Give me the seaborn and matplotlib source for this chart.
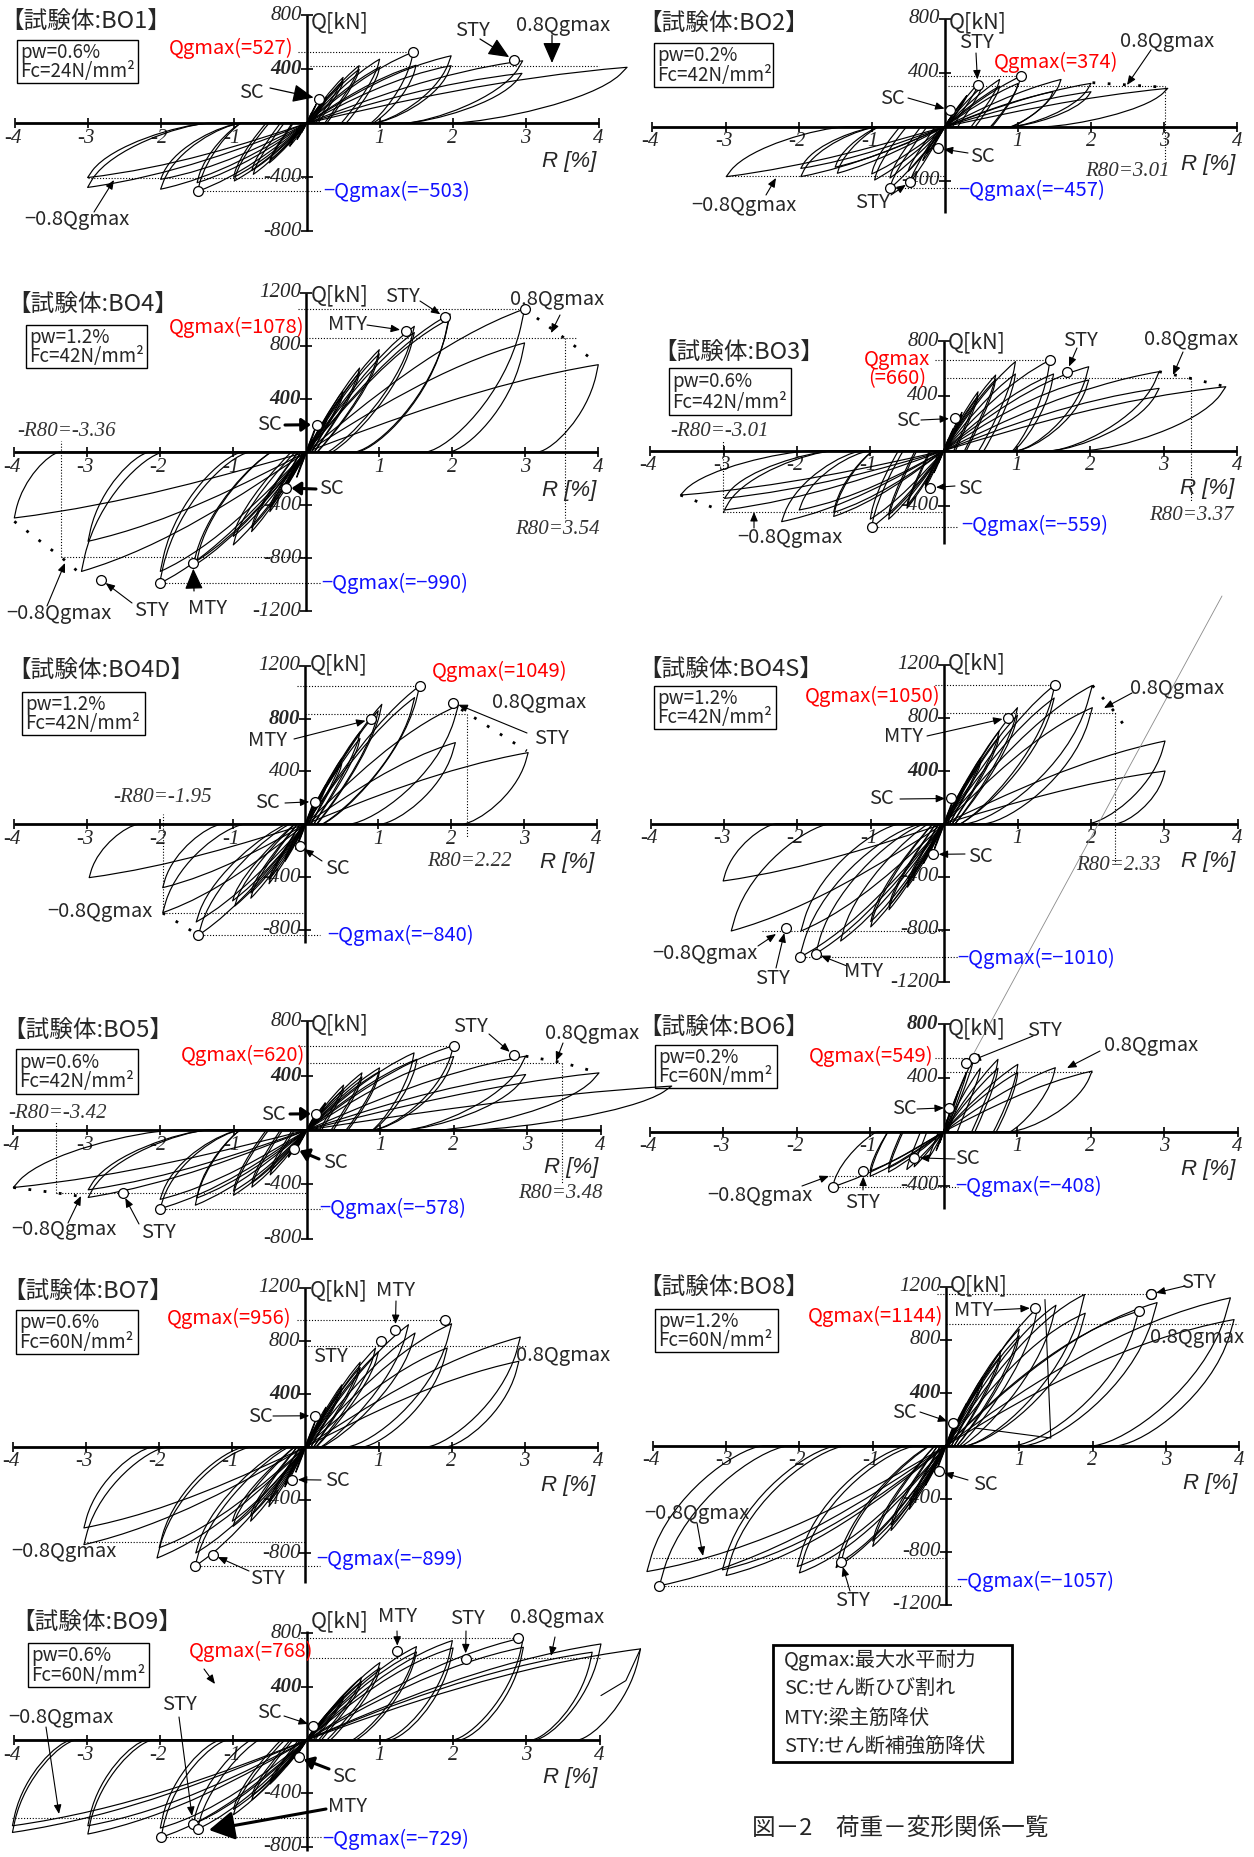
import matplotlib
matplotlib.use("Agg")
import matplotlib.pyplot as plt
import seaborn as sns
from matplotlib.path import Path
from matplotlib.patches import PathPatch, Rectangle
from matplotlib.lines import Line2D

# ---------------- loop peaks (R [%], Q [kN]) per specimen ----------------
BO1_POS_R = [0.07, 0.13, 0.27, 0.27, 0.50, 0.50, 0.72, 0.72, 1.00, 1.00, 1.46, 1.50, 1.98, 1.98, 2.96, 2.95, 4.39]
BO1_POS_Q = [80, 140, 195, 180, 340, 310, 427, 400, 475, 415, 527, 430, 500, 427, 463, 370, 415]
BO1_NEG_R = [-0.07, -0.13, -0.23, -0.25, -0.51, -0.50, -0.73, -0.75, -0.99, -1.00, -1.49, -1.50, -2.00, -2.00, -3.00, -3.00]
BO1_NEG_Q = [-70, -120, -170, -160, -293, -270, -378, -350, -427, -400, -503, -440, -488, -415, -475, -402]

BO2_POS_R = [0.07, 0.13, 0.25, 0.30, 0.46, 0.50, 0.75, 0.75, 1.04, 1.00, 1.59, 1.48, 2.00, 2.00, 3.05]
BO2_POS_Q = [60, 110, 190, 230, 320, 290, 350, 300, 374, 320, 350, 259, 321, 259, 284]
BO2_NEG_R = [-0.07, -0.13, -0.25, -0.30, -0.47, -0.50, -0.75, -0.75, -0.96, -1.00, -1.47, -1.50, -1.97, -1.97, -2.99]
BO2_NEG_Q = [-60, -110, -200, -250, -407, -330, -457, -380, -395, -350, -345, -300, -370, -309, -370]

BO4_POS_R = [0.07, 0.13, 0.28, 0.28, 0.50, 0.50, 0.73, 0.73, 1.00, 1.00, 1.48, 1.48, 1.97, 1.95, 2.99, 2.99, 4.00]
BO4_POS_Q = [100, 190, 256, 240, 457, 430, 633, 600, 771, 740, 947, 900, 1040, 1000, 1078, 822, 658]
BO4_NEG_R = [-0.07, -0.13, -0.28, -0.28, -0.50, -0.50, -0.75, -0.75, -1.00, -1.00, -1.55, -1.50, -2.01, -2.00, -3.08, -2.99, -4.00]
BO4_NEG_Q = [-100, -190, -260, -240, -450, -420, -600, -570, -700, -636, -860, -820, -990, -900, -900, -673, -497]

BO3_POS_R = [0.07, 0.13, 0.25, 0.25, 0.47, 0.47, 0.71, 0.71, 0.98, 0.98, 1.45, 1.50, 1.98, 1.98, 2.94, 2.94, 3.85]
BO3_POS_Q = [90, 160, 280, 260, 430, 400, 552, 520, 650, 560, 660, 560, 613, 516, 577, 455, 467]
BO3_NEG_R = [-0.07, -0.13, -0.25, -0.25, -0.50, -0.50, -0.75, -0.75, -0.98, -1.00, -1.50, -1.50, -1.97, -2.21, -2.99, -2.99, -3.59]
BO3_NEG_Q = [-90, -160, -270, -250, -420, -400, -500, -470, -559, -500, -480, -450, -433, -518, -433, -348, -324]

BO4D_POS_R = [0.07, 0.13, 0.28, 0.28, 0.50, 0.50, 0.75, 0.75, 1.05, 1.00, 1.57, 1.50, 2.10, 2.06, 3.06]
BO4D_POS_Q = [100, 190, 300, 280, 500, 460, 700, 650, 909, 860, 1049, 960, 900, 619, 543]
BO4D_NEG_R = [-0.07, -0.13, -0.28, -0.28, -0.50, -0.50, -0.75, -0.75, -0.97, -1.00, -1.47, -1.50, -1.96, -1.96, -2.97]
BO4D_NEG_Q = [-100, -190, -280, -260, -450, -420, -560, -520, -619, -580, -840, -740, -669, -480, -404]

BO4S_POS_R = [0.07, 0.13, 0.28, 0.28, 0.50, 0.50, 0.75, 0.75, 1.00, 1.00, 1.51, 1.50, 2.02, 2.02, 3.01, 3.01]
BO4S_POS_Q = [100, 190, 300, 280, 500, 470, 700, 660, 877, 820, 1050, 950, 1045, 877, 625, 398]
BO4S_NEG_R = [-0.07, -0.13, -0.28, -0.28, -0.50, -0.50, -0.75, -0.75, -1.00, -1.00, -1.41, -1.75, -1.97, -1.95, -2.90, -3.01]
BO4S_NEG_Q = [-100, -190, -300, -280, -480, -450, -650, -620, -780, -740, -887, -982, -1010, -811, -811, -433]

BO5_POS_R = [0.07, 0.13, 0.25, 0.25, 0.50, 0.50, 0.75, 0.75, 0.99, 0.99, 1.46, 1.50, 2.00, 2.00, 2.98, 2.98, 3.98, 4.97]
BO5_POS_Q = [70, 130, 200, 190, 330, 300, 420, 390, 457, 430, 567, 520, 620, 540, 543, 408, 420, 323]
BO5_NEG_R = [-0.07, -0.13, -0.25, -0.25, -0.50, -0.50, -0.75, -0.75, -1.00, -1.00, -1.52, -1.50, -2.00, -2.00, -2.98, -2.98, -4.00]
BO5_NEG_Q = [-70, -130, -200, -190, -330, -300, -420, -390, -480, -450, -553, -500, -578, -510, -496, -440, -423]

BO6_POS_R = [0.05, 0.10, 0.20, 0.31, 0.41, 0.50, 0.74, 0.74, 1.01, 1.01, 1.52, 2.02]
BO6_POS_Q = [90, 170, 300, 440, 549, 470, 536, 470, 499, 440, 474, 449]
BO6_NEG_R = [-0.05, -0.10, -0.20, -0.40, -0.50, -0.75, -0.75, -1.00, -1.00, -1.51]
BO6_NEG_Q = [-80, -140, -193, -260, -280, -300, -270, -330, -291, -408]

BO7_POS_R = [0.07, 0.13, 0.28, 0.28, 0.50, 0.50, 0.75, 0.75, 0.96, 1.00, 1.41, 1.50, 2.00, 1.94, 2.94, 2.92]
BO7_POS_Q = [100, 190, 300, 280, 470, 440, 640, 600, 747, 720, 923, 860, 930, 747, 830, 647]
BO7_NEG_R = [-0.07, -0.13, -0.28, -0.28, -0.50, -0.50, -0.75, -0.75, -0.99, -1.00, -1.51, -1.50, -2.03, -2.00, -3.03, -3.03]
BO7_NEG_Q = [-100, -190, -300, -280, -450, -420, -560, -520, -599, -560, -899, -800, -838, -760, -737, -611]

BO8_POS_R = [0.07, 0.13, 0.28, 0.28, 0.50, 0.50, 0.75, 0.75, 1.00, 1.00, 1.25, 1.50, 1.89, 1.90, 2.88, 2.63, 3.88, 3.93]
BO8_POS_Q = [100, 190, 320, 300, 520, 480, 720, 680, 880, 830, 1040, 1060, 1141, 1000, 1080, 1015, 1116, 952]
BO8_NEG_R = [-0.07, -0.13, -0.28, -0.28, -0.50, -0.50, -0.75, -0.75, -1.00, -1.00, -1.43, -1.50, -2.03, -2.00, -3.05, -3.00, -3.91, -4.08]
BO8_NEG_Q = [-100, -190, -300, -280, -480, -450, -640, -600, -760, -720, -874, -920, -912, -960, -937, -980, -1057, -950]
BO8_JUMP_R = [1.35, 1.43, 0.39]
BO8_JUMP_Q = [1103, 58, 134]

BO9_POS_R = [0.07, 0.13, 0.28, 0.28, 0.50, 0.50, 0.75, 0.75, 1.00, 1.00, 1.50, 1.50, 1.99, 2.00, 2.96, 2.96, 4.02, 3.90, 4.56]
BO9_POS_Q = [60, 110, 200, 190, 330, 310, 470, 440, 580, 540, 700, 660, 745, 690, 768, 695, 720, 658, 683]
BO9_NEG_R = [-0.07, -0.13, -0.28, -0.28, -0.50, -0.50, -0.75, -0.75, -1.00, -1.00, -1.49, -1.55, -1.99, -2.00, -2.99, -2.99, -4.02, -4.02]
BO9_NEG_Q = [-60, -110, -200, -190, -330, -310, -450, -420, -560, -520, -668, -630, -729, -660, -705, -643, -693, -643]
BO9_TAIL_R = [4.56, 4.36, 4.02]
BO9_TAIL_Q = [683, 445, 333]

# ---------------- maximum strength and events ----------------
BO1_QGMAX, BO1_QGMAX_NEG = (1.46, 527), (-1.49, -503)
BO2_QGMAX, BO2_QGMAX_NEG = (1.04, 374), (-0.75, -457)
BO4_QGMAX, BO4_QGMAX_NEG = (2.99, 1078), (-2.01, -990)
BO3_QGMAX, BO3_QGMAX_NEG = (1.45, 660), (-0.98, -559)
BO4D_QGMAX, BO4D_QGMAX_NEG = (1.57, 1049), (-1.47, -840)
BO4S_QGMAX, BO4S_QGMAX_NEG = (1.51, 1050), (-1.97, -1010)
BO5_QGMAX, BO5_QGMAX_NEG = (2.00, 620), (-2.00, -578)
BO6_QGMAX, BO6_QGMAX_NEG = (0.41, 549), (-1.51, -408)
BO7_QGMAX, BO7_QGMAX_NEG = (1.91, 956), (-1.51, -899)
BO8_QGMAX, BO8_QGMAX_NEG = (2.79, 1144), (-3.91, -1057)
BO9_QGMAX, BO9_QGMAX_NEG = (2.88, 768), (-1.99, -729)

BO1_EVENTS = {"SC": [(0.17, 182)], "STY": [(2.84, 468)]}
BO2_EVENTS = {"SC": [(0.07, 123), (-0.09, -160)], "STY": [(0.45, 309), (-0.47, -407)]}
BO4_EVENTS = {"SC": [(0.14, 206), (-0.28, -271)], "STY": [(1.90, 1015), (-2.81, -962)],
              "MTY": [(1.36, 915), (-1.55, -837)]}
BO3_EVENTS = {"SC": [(0.15, 236), (-0.18, -270)], "STY": [(1.68, 577)]}
BO4D_EVENTS = {"SC": [(0.13, 172), (-0.08, -164)], "STY": [(2.03, 922)], "MTY": [(0.90, 795)]}
BO4S_EVENTS = {"SC": [(0.09, 191), (-0.15, -232)], "STY": [(-2.16, -786)],
               "MTY": [(0.87, 801), (-1.75, -982)]}
BO5_EVENTS = {"SC": [(0.13, 120), (-0.17, -137)], "STY": [(2.82, 548), (-2.51, -464)]}
BO6_EVENTS = {"SC": [(0.08, 178), (-0.40, -193)], "STY": [(0.31, 511), (-1.09, -291)]}
BO7_EVENTS = {"SC": [(0.13, 236), (-0.18, -246)], "STY": [(1.04, 797), (-1.27, -813)], "MTY": [(1.23, 886)]}
BO8_EVENTS = {"SC": [(0.09, 171), (-0.10, -194)], "STY": [(2.79, 1144), (-1.43, -874)],
              "MTY": [(1.22, 1040)], "PT": [(2.63, 1015)]}
BO9_EVENTS = {"SC": [(0.09, 108), (-0.11, -130)], "STY": [(2.17, 608), (-1.55, -630)],
              "MTY": [(1.24, 665), (-1.49, -668)]}

# ultimate deformation R80 and the post-peak envelope toward 0.8Qgmax
BO2_R80 = [3.01]
BO4_R80 = [3.54, -3.36]
BO3_R80 = [3.37, -3.01]
BO4D_R80 = [2.22, -1.95]
BO4S_R80 = [2.33]
BO5_R80 = [3.48, -3.42]

BO2_DROP = [[(2.02, 326), (3.04, 291)]]
BO4_DROP = [[(2.99, 1078), (3.52, 864), (3.92, 696)], [(-4.00, -523), (-3.36, -792), (-3.13, -900)]]
BO3_DROP = [[(2.94, 577), (3.37, 528), (3.85, 467)], [(-3.59, -324), (-2.99, -447)]]
BO4D_DROP = [[(2.14, 871), (3.04, 556)], [(-1.96, -672), (-1.47, -840)]]
BO4S_DROP = [[(2.02, 1045), (2.33, 840), (2.50, 705)]]
BO5_DROP = [[(2.98, 543), (3.48, 496), (3.98, 420)], [(-4.00, -423), (-3.42, -462), (-2.98, -496)]]

# ---------------- fonts ----------------
sns.set_theme(style="white")
JP = "Noto Sans CJK JP"
SERIF = "Liberation Serif"
plt.rcParams["font.family"] = [JP, "DejaVu Sans"]
LABF = [JP, "DejaVu Sans"]
MINUS = "\u2212"
LFS = 14.5

W, H = 1254, 1857
fig = plt.figure(figsize=(W / 100, H / 100), dpi=100)
fig.patch.set_facecolor("white")


def fxy(x, y):
    return (x / W, 1 - y / H)


def ftext(x, y, s, ha="center", va="center", **kw):
    fig.text(x / W, 1 - y / H, s, ha=ha, va=va, **kw)


M, C, L = Path.MOVETO, Path.CURVE4, Path.LINETO


def loop_patch(rp, qp, res, bulge, ku):
    """Half cycle from the origin out to a peak and back to the axis.

    res   -- pinching: where large loops meet the axis on unloading (fraction of the peak drift)
    bulge -- fullness of the loading branch of large loops
    ku    -- unloading stiffness [kN/%]
    """
    sg = 1.0 if rp > 0 else -1.0
    a, b = abs(rp), abs(qp)
    w = min(1.0, max(0.0, (a - 0.2) / 1.8))
    ru = max(min(b / ku, 0.85 * a), (1.0 - res) * a * w)

    def mix(p, q):
        return (p[0] * (1 - w) + q[0] * w, p[1] * (1 - w) + q[1] * w)

    l1 = mix((0.33 * a, 0.37 * b), (0.28 * a, (0.30 + bulge) * b))
    l2 = mix((0.66 * a, 0.71 * b), (0.62 * a, (0.74 + bulge) * b))
    pts = [(0, 0), l1, l2, (a, b),
           (a - 0.04 * ru, (0.93 - 0.06 * w) * b),
           (a - 0.2 * ru, (0.75 - 0.35 * w) * b),
           (a - 0.75 * ru, (0.28 - 0.25 * w) * b),
           (a - ru, 0.0), (0, 0)]
    codes = [M, C, C, C, L, C, C, C, L]
    verts = [(sg * u, sg * v) for u, v in pts]
    return PathPatch(Path(verts, codes), fill=False, lw=0.85, ec="black", clip_on=False, zorder=3,
                     capstyle="round", joinstyle="round")


ARROWS = {"small": dict(arrowstyle="-|>,head_length=0.6,head_width=0.25", lw=0.8, mutation_scale=9),
          "big": dict(arrowstyle="-|>,head_length=0.8,head_width=0.35", lw=0.9, mutation_scale=16),
          "thick": dict(arrowstyle="-|>,head_length=0.5,head_width=0.35", lw=2.2, mutation_scale=11),
          "huge": dict(arrowstyle="-|>,head_length=0.7,head_width=0.4", lw=2.2, mutation_scale=22)}


def draw_arrow(ax, ev, start, target, kind):
    if target[0] == "e":
        xy, xyc, shr = ev[target[1]][target[2]], "data", 4
    else:
        xy, xyc, shr = fxy(target[1], target[2]), "figure fraction", 0
    props = dict(color="black", shrinkA=0, shrinkB=shr, **ARROWS[kind])
    ax.annotate("", xy=xy, xycoords=xyc, xytext=fxy(*start), textcoords="figure fraction",
                arrowprops=props, annotation_clip=False, zorder=6)


def A(t, x, y, start=None, target=None, kind="small", ha="center"):
    return dict(t=t, x=x, y=y, start=start, target=target, kind=kind, ha=ha)


SPECS = [
    dict(key="BO1", pw="0.6", fc="24", x0=306.6, y0=123.3, ux=73.0, uy=0.135, yax=(-800, 800),
         yt=[800, 400, -400, -800], bold=400, pos=(BO1_POS_R, BO1_POS_Q), neg=(BO1_NEG_R, BO1_NEG_Q),
         qg=BO1_QGMAX, qgn=BO1_QGMAX_NEG, ev=BO1_EVENTS, shape=(0.45, 0.08, 900), r80=[], r80v=[], drop=[],
         title=(0, 21), box=(17, 40, 138, 83), qkn=22, q80p=(0.05, 4.0), q80n=(-3.0, 0.0),
         qglab=(293, 48, "right"), qgnlab=(323, 191, "left"),
         labels=[A("STY", 472, 31, (480, 39), ("e", "STY", 0), "big"),
                 A("0.8Qgmax", 563, 25, (552, 35), ("p", 552, 63), "big"),
                 A(MINUS + "0.8Qgmax", 77, 220, (94, 212), ("p", 114, 180)),
                 A("SC", 251, 92, (270, 88), ("e", "SC", 0), "big")]),
    dict(key="BO2", pw="0.2", fc="42", x0=944.8, y0=126.7, ux=73.1, uy=0.135, yax=(-640, 800),
         yt=[800, 400, -400], bold=None, pos=(BO2_POS_R, BO2_POS_Q), neg=(BO2_NEG_R, BO2_NEG_Q),
         qg=BO2_QGMAX, qgn=BO2_QGMAX_NEG, ev=BO2_EVENTS, shape=(0.45, 0.05, 900), r80=BO2_R80,
         r80v=[(BO2_R80[0], -250)], r80lab=[(1127, 172)], drop=BO2_DROP,
         title=(638, 23), box=(654, 43, 773, 87), qkn=22, q80p=(0.05, 3.01), q80n=(-3.0, 0.0),
         qglab=(994, 62, "left"), qgnlab=(958, 190, "left"),
         labels=[A("STY", 976, 43, (976, 53), ("e", "STY", 0)),
                 A("0.8Qgmax", 1167, 42, (1151, 50), ("p", 1127, 85)),
                 A(MINUS + "0.8Qgmax", 744, 205, (766, 195), ("p", 776, 178)),
                 A("SC", 892, 98, (908, 98), ("e", "SC", 0)),
                 A("SC", 982, 157, (968, 153), ("e", "SC", 1)),
                 A("STY", 872, 203, (891, 195), ("e", "STY", 1))]),
    dict(key="BO4", pw="1.2", fc="42", x0=306.3, y0=452.0, ux=73.0, uy=0.1327, yax=(-1200, 1200),
         yt=[1200, 800, 400, -400, -800, -1200], bold=400, pos=(BO4_POS_R, BO4_POS_Q),
         neg=(BO4_NEG_R, BO4_NEG_Q), qg=BO4_QGMAX, qgn=BO4_QGMAX_NEG, ev=BO4_EVENTS, shape=(1.0, 0.05, 800),
         r80=BO4_R80, r80v=[(BO4_R80[0], -497), (BO4_R80[1], 80)], r80lab=[(557, 530), (67, 432)],
         drop=BO4_DROP, title=(7, 304), box=(26, 325, 147, 368), qkn=295, q80p=(0.0, 3.69),
         q80n=(-3.36, 0.0), qglab=(304, 327, "right"), qgnlab=(321, 583, "left"),
         labels=[A("STY", 402, 296, (420, 301), ("e", "STY", 0)),
                 A("MTY", 347, 324, (367, 325), ("e", "MTY", 0)),
                 A("0.8Qgmax", 557, 299, (560, 315), ("p", 551, 333)),
                 A(MINUS + "0.8Qgmax", 59, 613, (47, 606), ("p", 65, 563)),
                 A("STY", 151, 610, (132, 603), ("e", "STY", 1)),
                 A("MTY", 208, 608, (194, 591), ("e", "MTY", 1), "big"),
                 A("SC", 269, 425, (285, 425), ("e", "SC", 0), "thick"),
                 A("SC", 331, 489, (316, 489), ("e", "SC", 1), "thick")]),
    dict(key="BO3", pw="0.6", fc="42", x0=943.6, y0=450.7, ux=73.3, uy=0.137, yax=(-680, 800),
         yt=[800, 400, -400], bold=None, pos=(BO3_POS_R, BO3_POS_Q), neg=(BO3_NEG_R, BO3_NEG_Q),
         qg=BO3_QGMAX, qgn=BO3_QGMAX_NEG, ev=BO3_EVENTS, shape=(0.5, 0.08, 1300), r80=BO3_R80,
         r80v=[(BO3_R80[0], -372), (BO3_R80[1], 78)], r80lab=[(1191, 515), (720, 432)], drop=BO3_DROP,
         title=(653, 352), box=(669, 368, 791, 415), qkn=342, q80p=(0.0, 3.37), q80n=(-2.99, 0.0),
         qglab=None, qgnlab=(961, 525, "left"),
         labels=[A("STY", 1080, 340, (1077, 348), ("e", "STY", 0)),
                 A("0.8Qgmax", 1191, 340, (1183, 352), ("p", 1173, 375)),
                 A(MINUS + "0.8Qgmax", 790, 538, (754, 528), ("p", 754, 512)),
                 A("SC", 908, 420, (921, 420), ("e", "SC", 0)),
                 A("SC", 970, 488, (955, 486), ("e", "SC", 1))]),
    dict(key="BO4D", pw="1.2", fc="42", x0=305.4, y0=824.3, ux=72.8, uy=0.132, yax=(-900, 1200),
         yt=[1200, 800, 400, -400, -800], bold=800, pos=(BO4D_POS_R, BO4D_POS_Q),
         neg=(BO4D_NEG_R, BO4D_NEG_Q), qg=BO4D_QGMAX, qgn=BO4D_QGMAX_NEG, ev=BO4D_EVENTS,
         shape=(1.0, 0.05, 600), r80=BO4D_R80, r80v=[(BO4D_R80[0], -101), (BO4D_R80[1], 76)],
         r80lab=[(469, 861), (163, 798)], drop=BO4D_DROP, title=(7, 670), box=(22, 692, 145, 735),
         qkn=664, q80p=(0.0, 2.22), q80n=(-1.95, 0.0), qglab=(432, 671, "left"), qgnlab=(327, 935, "left"),
         labels=[A("0.8Qgmax", 539, 702),
                 A("STY", 551, 739, (527, 733), ("e", "STY", 0)),
                 A(MINUS + "0.8Qgmax", 100, 911),
                 A("MTY", 267, 741, (294, 739), ("e", "MTY", 0)),
                 A("SC", 267, 803, (285, 803), ("e", "SC", 0)),
                 A("SC", 337, 868, (322, 861), ("e", "SC", 1))]),
    dict(key="BO4S", pw="1.2", fc="42", x0=944.1, y0=823.7, ux=73.4, uy=0.1323, yax=(-1200, 1200),
         yt=[1200, 800, 400, -400, -800, -1200], bold=400, pos=(BO4S_POS_R, BO4S_POS_Q),
         neg=(BO4S_NEG_R, BO4S_NEG_Q), qg=BO4S_QGMAX, qgn=BO4S_QGMAX_NEG, ev=BO4S_EVENTS,
         shape=(1.0, 0.05, 600), r80=BO4S_R80, r80v=[(BO4S_R80[0], -307)], r80lab=[(1118, 866)],
         drop=BO4S_DROP, title=(638, 669), box=(654, 686, 776, 729), qkn=663, q80p=(0.0, 2.34),
         q80n=(-2.48, 0.0), qglab=(941, 696, "right"), qgnlab=(957, 958, "left"),
         labels=[A("0.8Qgmax", 1177, 688, (1132, 693), ("p", 1104, 708)),
                 A("MTY", 903, 736, (927, 736), ("e", "MTY", 0)),
                 A("SC", 881, 799, (900, 799), ("e", "SC", 0)),
                 A("SC", 980, 856, (965, 854), ("e", "SC", 1)),
                 A(MINUS + "0.8Qgmax", 705, 953, (758, 946), ("p", 776, 934)),
                 A("STY", 772, 978, (776, 968), ("e", "STY", 0)),
                 A("MTY", 864, 971, (847, 966), ("e", "MTY", 1))]),
    dict(key="BO5", pw="0.6", fc="42", x0=306.9, y0=1130.0, ux=73.4, uy=0.136, yax=(-800, 800),
         yt=[800, 400, -400, -800], bold=400, pos=(BO5_POS_R, BO5_POS_Q), neg=(BO5_NEG_R, BO5_NEG_Q),
         qg=BO5_QGMAX, qgn=BO5_QGMAX_NEG, ev=BO5_EVENTS, shape=(0.45, 0.06, 1000), r80=BO5_R80,
         r80v=[(BO5_R80[0], -399), (BO5_R80[1], 66)], r80lab=[(560, 1194), (58, 1114)], drop=BO5_DROP,
         title=(2, 1030), box=(16, 1049, 138, 1094), qkn=1024, q80p=(0.0, 3.48), q80n=(-3.42, 0.0),
         qglab=(305, 1055, "right"), qgnlab=(319, 1208, "left"),
         labels=[A("STY", 470, 1027, (489, 1034), ("e", "STY", 0)),
                 A("0.8Qgmax", 592, 1034, (563, 1043), ("p", 556, 1061)),
                 A(MINUS + "0.8Qgmax", 64, 1230, (68, 1223), ("p", 81, 1196)),
                 A("STY", 158, 1233, (139, 1224), ("e", "STY", 1)),
                 A("SC", 273, 1114, (290, 1114), ("e", "SC", 0), "thick"),
                 A("SC", 335, 1163, (319, 1159), ("e", "SC", 1), "thick")]),
    dict(key="BO6", pw="0.2", fc="60", x0=943.6, y0=1131.7, ux=73.5, uy=0.135, yax=(-570, 800),
         yt=[800, 400, -400], bold=800, pos=(BO6_POS_R, BO6_POS_Q), neg=(BO6_NEG_R, BO6_NEG_Q),
         qg=BO6_QGMAX, qgn=BO6_QGMAX_NEG, ev=BO6_EVENTS, shape=(0.45, 0.05, 1500), r80=[], r80v=[], drop=[],
         title=(638, 1027), box=(655, 1045, 777, 1088), qkn=1028, q80p=(0.0, 2.02), q80n=(-1.56, 0.0),
         qglab=(933, 1056, "right"), qgnlab=(955, 1186, "left"),
         labels=[A("STY", 1044, 1031, (1033, 1036), ("e", "STY", 0)),
                 A("0.8Qgmax", 1151, 1046, (1100, 1051), ("p", 1067, 1068)),
                 A("SC", 904, 1109, (917, 1109), ("e", "SC", 0)),
                 A("SC", 967, 1159, (955, 1159), ("e", "SC", 1)),
                 A(MINUS + "0.8Qgmax", 760, 1195, (802, 1186), ("p", 829, 1176)),
                 A("STY", 862, 1203, (863, 1190), ("e", "STY", 1))]),
    dict(key="BO7", pw="0.6", fc="60", x0=305.4, y0=1447.0, ux=73.1, uy=0.1325, yax=(-1030, 1200),
         yt=[1200, 800, 400, -400, -800], bold=400, pos=(BO7_POS_R, BO7_POS_Q), neg=(BO7_NEG_R, BO7_NEG_Q),
         qg=BO7_QGMAX, qgn=BO7_QGMAX_NEG, ev=BO7_EVENTS, shape=(1.0, 0.06, 650), r80=[], r80v=[], drop=[],
         title=(2, 1291), box=(16, 1310, 138, 1354), qkn=1290, q80p=(0.0, 3.03), q80n=(-3.03, 0.0),
         qglab=(292, 1318, "right"), qgnlab=(316, 1559, "left"),
         labels=[A("MTY", 395, 1291, (396, 1301), ("e", "MTY", 0)),
                 A("STY", 330, 1356),
                 A("0.8Qgmax", 563, 1355),
                 A("SC", 260, 1416, (273, 1416), ("e", "SC", 0)),
                 A("SC", 337, 1480, (321, 1480), ("e", "SC", 1)),
                 A(MINUS + "0.8Qgmax", 64, 1552),
                 A("STY", 267, 1578, (249, 1571), ("e", "STY", 1))]),
    dict(key="BO8", pw="1.2", fc="60", x0=946.0, y0=1445.7, ux=73.3, uy=0.1325, yax=(-1200, 1200),
         yt=[1200, 800, 400, -400, -800, -1200], bold=400, pos=(BO8_POS_R, BO8_POS_Q),
         neg=(BO8_NEG_R, BO8_NEG_Q), qg=BO8_QGMAX, qgn=BO8_QGMAX_NEG, ev=BO8_EVENTS, shape=(1.0, 0.1, 600),
         r80=[], r80v=[], drop=[], title=(638, 1287), box=(655, 1309, 778, 1352), qkn=1285,
         q80p=(0.0, 3.98), q80n=(-4.0, 0.0), qglab=(943, 1316, "right"), qgnlab=(956, 1581, "left"),
         labels=[A("STY", 1198, 1283, (1185, 1286), ("e", "STY", 0)),
                 A("MTY", 974, 1310, (994, 1310), ("e", "MTY", 0)),
                 A("0.8Qgmax", 1197, 1338),
                 A("SC", 904, 1412, (920, 1412), ("e", "SC", 0)),
                 A("SC", 985, 1485, (968, 1480), ("e", "SC", 1)),
                 A(MINUS + "0.8Qgmax", 697, 1513, (697, 1523), ("p", 703, 1556)),
                 A("STY", 852, 1601, (850, 1591), ("e", "STY", 1))]),
    dict(key="BO9", pw="0.6", fc="60", x0=306.7, y0=1740.0, ux=73.2, uy=0.1334, yax=(-830, 820),
         yt=[800, 400, -400, -800], bold=400, pos=(BO9_POS_R, BO9_POS_Q), neg=(BO9_NEG_R, BO9_NEG_Q),
         qg=BO9_QGMAX, qgn=BO9_QGMAX_NEG, ev=BO9_EVENTS, shape=(1.0, 0.08, 800), r80=[], r80v=[], drop=[],
         title=(11, 1622), box=(28, 1643, 149, 1687), qkn=1621, q80p=(0.0, 4.0), q80n=(-4.02, 0.0),
         qglab=(313, 1651, "right"), qgnlab=(322, 1839, "left"),
         labels=[A("", 0, 0, (204, 1669), ("p", 215, 1684)),
                 A("MTY", 397, 1616, (397, 1631), ("e", "MTY", 0)),
                 A("STY", 467, 1618, (466, 1631), ("e", "STY", 0)),
                 A("0.8Qgmax", 557, 1617, (555, 1637), ("p", 551, 1656)),
                 A(MINUS + "0.8Qgmax", 61, 1717, (46, 1727), ("p", 59, 1814)),
                 A("STY", 179, 1704, (179, 1717), ("p", 192, 1816)),
                 A("MTY", 347, 1806, (326, 1809), ("p", 209, 1830), "huge"),
                 A("SC", 269, 1712, (284, 1716), ("e", "SC", 0)),
                 A("SC", 344, 1776, (329, 1769), ("e", "SC", 1), "thick")]),
]

DOT = (0, (1, 1.6))
COARSE = (0, (1, 4.5))

for sp in SPECS:
    x0, y0, ux, uy = sp["x0"], sp["y0"], sp["ux"], sp["uy"]
    ymin, ymax = sp["yax"]
    xlim = (-4.5, 5.2)
    ylim = (ymin - 40, ymax + 40)
    left, right = x0 + xlim[0] * ux, x0 + xlim[1] * ux
    top, bottom = y0 - ylim[1] * uy, y0 - ylim[0] * uy
    ax = fig.add_axes([left / W, 1 - bottom / H, (right - left) / W, (bottom - top) / H])
    ax.set_xlim(xlim)
    ax.set_ylim(ylim)
    ax.set_axis_off()
    ax.patch.set_alpha(0)

    # axes drawn through the origin
    ax.plot([-4, 4], [0, 0], color="black", lw=2.0, clip_on=False, zorder=4, solid_capstyle="butt")
    ax.plot([0, 0], [ymin, ymax], color="black", lw=1.8, clip_on=False, zorder=4, solid_capstyle="butt")
    xt = [-4, -3, -2, -1, 1, 2, 3, 4]
    ax.plot(xt, [0] * len(xt), ls="none", marker="|", ms=7, mew=1.2, color="black", clip_on=False, zorder=4)
    ax.plot([0] * len(sp["yt"]), sp["yt"], ls="none", marker="_", ms=8, mew=1.2, color="black",
            clip_on=False, zorder=4)
    for k in xt:
        ax.annotate(f"{k}", (k, 0), xytext=(-2 if k < 0 else 0, -15), textcoords="offset pixels",
                    ha="center", va="center", family=SERIF, style="italic", fontsize=15,
                    annotation_clip=False, zorder=2)
    for q in sp["yt"]:
        bold = (q == sp["bold"])
        ax.annotate(f"{q}", (0, q), xytext=(-5, 0), textcoords="offset pixels", ha="right", va="center",
                    family=SERIF, style="italic", fontsize=15, weight="bold" if bold else "normal",
                    annotation_clip=False, zorder=2)

    # hysteresis loops
    res, bulge, ku = sp["shape"]
    for rs, qs in (sp["pos"], sp["neg"]):
        for r, q in zip(rs, qs):
            ax.add_patch(loop_patch(r, q, res, bulge, ku))
    if sp["key"] == "BO8":
        ax.plot(BO8_JUMP_R, BO8_JUMP_Q, color="black", lw=0.8, clip_on=False, zorder=3)
    if sp["key"] == "BO9":
        ax.plot(BO9_TAIL_R, BO9_TAIL_Q, color="black", lw=0.8, clip_on=False, zorder=3)

    # reference lines for Qgmax and 0.8Qgmax
    qg, qgn = sp["qg"], sp["qgn"]
    ax.plot([-0.12, qg[0]], [qg[1], qg[1]], color="black", lw=0.8, ls=DOT, clip_on=False, zorder=2)
    ax.plot([qgn[0], 0.2], [qgn[1], qgn[1]], color="black", lw=0.8, ls=DOT, clip_on=False, zorder=2)
    ax.plot(list(sp["q80p"]), [0.8 * qg[1]] * 2, color="black", lw=0.8, ls=DOT, clip_on=False, zorder=2)
    ax.plot(list(sp["q80n"]), [0.8 * qgn[1]] * 2, color="black", lw=0.8, ls=DOT, clip_on=False, zorder=2)
    for (rv, qend), rv80 in zip(sp["r80v"], sp["r80"]):
        qstart = 0.8 * (qg[1] if rv80 > 0 else qgn[1])
        ax.plot([rv80, rv80], [qstart, qend], color="black", lw=0.8, ls=DOT, clip_on=False, zorder=2)
    for seg in sp["drop"]:
        ax.plot([p[0] for p in seg], [p[1] for p in seg], color="black", lw=2.0, ls=COARSE,
                clip_on=False, zorder=3)

    # event markers
    pts = [qg, qgn] + [p for v in sp["ev"].values() for p in v]
    sns.scatterplot(x=[p[0] for p in pts], y=[p[1] for p in pts], ax=ax, s=50, color="white",
                    edgecolor="black", linewidth=0.9, zorder=7, clip_on=False, legend=False)

    # texts
    ftext(sp["title"][0], sp["title"][1], f"【試験体:{sp['key']}】", ha="left", family=[JP], fontsize=17)
    bx = sp["box"]
    fig.add_artist(Rectangle(fxy(bx[0], bx[3]), (bx[2] - bx[0]) / W, (bx[3] - bx[1]) / H,
                             transform=fig.transFigure, fill=False, lw=1.0, ec="black"))
    hh = (bx[3] - bx[1])
    ftext(bx[0] + 3, bx[1] + hh * 0.29, f"pw={sp['pw']}%", ha="left", family=LABF, fontsize=13.5)
    ftext(bx[0] + 3, bx[1] + hh * 0.73, f"Fc={sp['fc']}N/mm²", ha="left", family=LABF, fontsize=13.5)
    ftext(x0 + 4, sp["qkn"], "Q[kN]", ha="left", family=LABF, fontsize=15.5)
    ftext(x0 + 3.6 * ux, y0 + 38, "R [%]", family=["Liberation Sans"], style="italic", fontsize=16)
    if sp["qglab"] is not None:
        gx, gy, gha = sp["qglab"]
        ftext(gx, gy, f"Qgmax(={qg[1]})", ha=gha, family=LABF, fontsize=LFS, color="#ff0000")
    else:
        ftext(897, 360, "Qgmax", family=LABF, fontsize=LFS, color="#ff0000")
        ftext(897, 379, f"(={qg[1]})", family=LABF, fontsize=LFS, color="#ff0000")
    nx, ny, nha = sp["qgnlab"]
    ftext(nx, ny, f"{MINUS}Qgmax(={MINUS}{abs(qgn[1])})", ha=nha, family=LABF, fontsize=LFS, color="#1010ff")
    for rv80, (lx, ly) in zip(sp["r80"], sp.get("r80lab", [])):
        s = f"R80={rv80}" if rv80 > 0 else f"-R80=-{abs(rv80)}"
        ftext(lx, ly, s, family=[SERIF], style="italic", fontsize=15, color="#333333")
    for lab in sp["labels"]:
        if lab["t"]:
            ftext(lab["x"], lab["y"], lab["t"], ha=lab["ha"], family=LABF, fontsize=LFS)
        if lab["start"] is not None:
            draw_arrow(ax, sp["ev"], lab["start"], lab["target"], lab["kind"])

# thin leader line crossing the right column
fig.add_artist(Line2D([1222 / W, 974 / W], [1 - 596 / H, 1 - 1053 / H], transform=fig.transFigure,
                      color="#8a8a8a", lw=0.6))

# key to the abbreviations
fig.add_artist(Rectangle(fxy(773, 1762), (1012 - 773) / W, (1762 - 1645) / H, transform=fig.transFigure,
                         fill=False, lw=2.0, ec="black"))
for txt, yy in [("Qgmax:最大水平耐力", 1660), ("SC:せん断ひび割れ", 1688),
                ("MTY:梁主筋降伏", 1719), ("STY:せん断補強筋降伏", 1746)]:
    ftext(784, yy, txt, ha="left", family=[JP], fontsize=14.5)
ftext(752, 1828, "図－2　荷重－変形関係一覧", ha="left", family=[JP], fontsize=17)

fig.savefig("out.png", dpi=100, facecolor="white")
